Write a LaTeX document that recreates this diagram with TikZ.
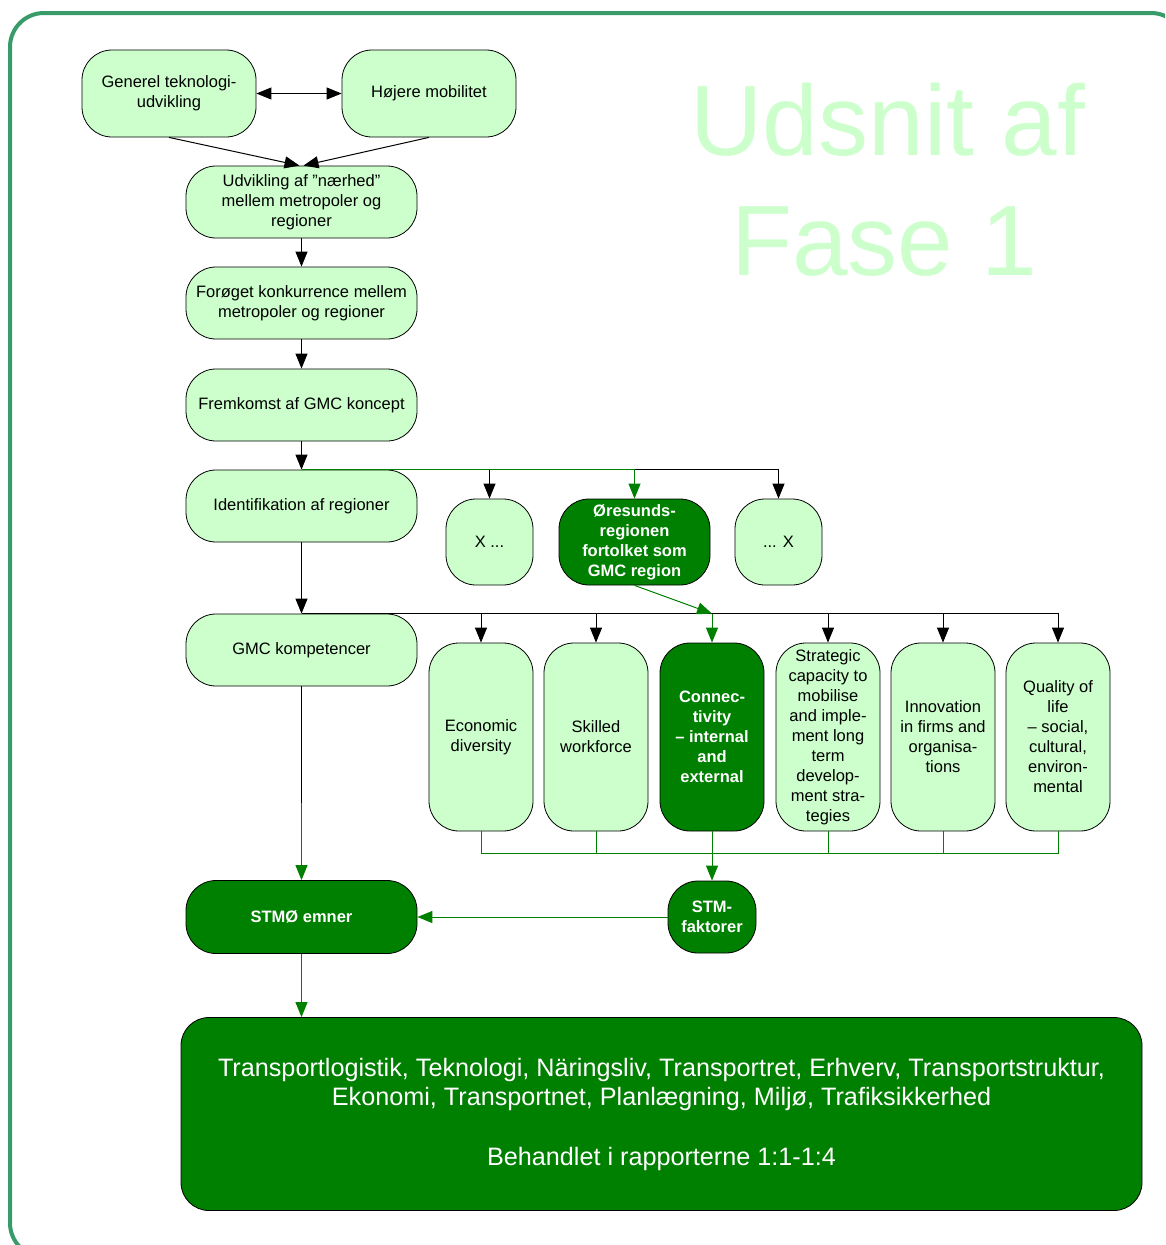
\documentclass[tikz,border=0pt]{standalone}
\usepackage{fontspec}
\setmainfont{Liberation Sans}
\usetikzlibrary{arrows.meta}
\definecolor{lightfill}{HTML}{CCFFCC}
\definecolor{darkfill}{HTML}{008000}
\definecolor{framecol}{RGB}{56,155,105}

\begin{document}
\begin{tikzpicture}[x=1pt,y=-1pt,
  every node/.style={inner sep=0pt, align=center},
  lbox/.style={draw=black, line width=0.8pt, fill=lightfill, rounded corners=30pt,
    font=\fontsize{16.5}{20}\selectfont},
  dbox/.style={draw=black, line width=0.8pt, fill=darkfill, rounded corners=30pt,
    text=white, font=\fontsize{16.5}{20}\selectfont\bfseries},
  wide/.style={minimum width=231pt, minimum height=72pt},
  tall/.style={minimum width=104pt, minimum height=188pt},
  small/.style={minimum width=87pt, minimum height=86pt},
  tip/.style={-{Triangle[length=15pt,width=12pt]}},
  conn/.style={line width=1pt, tip},
  gline/.style={line width=1pt, draw=darkfill},
  gconn/.style={gline, tip},
]
\useasboundingbox (0,0) rectangle (1165,1245);
\clip (0,0) rectangle (1165,1245);

% outer frame
\draw[framecol, line width=4pt, rounded corners=34pt] (10,13) rectangle (1185,1257);

% title
\node[text=lightfill, font=\fontsize{100}{120}\selectfont, anchor=base] (title1) at (888,155) {Udsnit af};
\node[text=lightfill, font=\fontsize{100}{120}\selectfont, anchor=base] (title2) at (884,275) {Fase 1};

% upper chain
\node[lbox, minimum width=174pt, minimum height=87pt] (gen) at (169,93.5) {Generel teknologi-\\udvikling};
\node[lbox, minimum width=174pt, minimum height=87pt] (hoj) at (429,93.5) {Højere mobilitet};
\node[lbox, wide] (udv) at (301.5,202) {Udvikling af ”nærhed”\\mellem metropoler og\\regioner};
\node[lbox, wide] (forg) at (301.5,303) {Forøget konkurrence mellem\\metropoler og regioner};
\node[lbox, wide] (frem) at (301.5,405) {Fremkomst af GMC koncept};
\node[lbox, wide] (ident) at (301.5,506) {Identifikation af regioner};

% regions
\node[lbox, small] (xa) at (489.5,542) {X ...};
\node[dbox, minimum width=151pt, minimum height=86pt] (ore) at (634.5,542) {Øresunds-\\regionen\\fortolket som\\GMC region};
\node[lbox, small] (xb) at (778.5,542) {... X};

% competences
\node[lbox, wide] (gmc) at (301.5,650) {GMC kompetencer};
\node[lbox, tall] (eco) at (481,737) {Economic\\diversity};
\node[lbox, tall] (skil) at (596,737) {Skilled\\workforce};
\node[dbox, tall] (cty) at (712,737) {Connec-\\tivity\\– internal\\and\\external};
\node[lbox, tall] (strat) at (828,737) {Strategic\\capacity to\\mobilise\\and imple-\\ment long\\term\\develop-\\ment stra-\\tegies};
\node[lbox, tall] (innov) at (943,737) {Innovation\\in firms and\\organisa-\\tions};
\node[lbox, tall] (qual) at (1058,737) {Quality of\\life\\– social,\\cultural,\\environ-\\mental};

% STM
\node[dbox, minimum width=231pt, minimum height=73pt] (stmo) at (301.5,917) {STMØ emner};
\node[dbox, minimum width=88pt, minimum height=72pt] (stmf) at (712,917) {STM-\\faktorer};

% topics
\node[draw=black, line width=0.8pt, fill=darkfill, rounded corners=28pt, text=white,
  minimum width=961pt, minimum height=193pt, font=\fontsize{25.2}{29}\selectfont] (topics) at (661.5,1114)
  {Transportlogistik, Teknologi, Näringsliv, Transportret, Erhverv, Transportstruktur,\\
   Ekonomi, Transportnet, Planlægning, Miljø, Trafiksikkerhed\\[31pt]
   Behandlet i rapporterne 1:1-1:4};

% connectors: upper chain
\draw[line width=1pt, {Triangle[length=15pt,width=12pt]}-{Triangle[length=15pt,width=12pt]}] (gen) -- (hoj);
\draw[conn] (gen.south) -- ([xshift=-2pt]udv.north);
\draw[conn] (hoj.south) -- ([xshift=2pt]udv.north);
\draw[conn] (udv) -- (forg);
\draw[conn] (forg) -- (frem);
\draw[conn] (frem) -- (ident);

% branch to regions
\draw[conn] (ident.north) -| (xb.north);
\draw[conn] (ident.north -| xa.north) -- (xa.north);
\draw[gconn] (ident.north) -| (ore.north);

% branch to competences
\draw[conn] (ident) -- (gmc);
\draw[conn] (gmc.north) -| (qual.north);
\foreach \n in {eco,skil,strat,innov}
  \draw[conn] (gmc.north -| \n.north) -- (\n.north);
\draw[gconn] (ore.south) -- (gmc.north -| cty.north);
\draw[gconn] (gmc.north -| cty.north) -- (cty.north);

% collecting line under the competences
\draw[gline] (eco.south) -- ++(0,22) -| (qual.south);
\foreach \n in {skil,strat,innov}
  \draw[gline] (\n.south) -- ++(0,22);
\draw[gconn] (cty) -- (stmf);

% STM links
\coordinate (gmcmid) at (301.5,803);
\draw[line width=1pt] (gmc) -- (gmcmid);
\draw[gconn] (gmcmid) -- (stmo);
\draw[gconn] (stmf) -- (stmo);
\draw[gconn] (stmo.south) -- (stmo.south |- topics.north);
\end{tikzpicture}
\end{document}
